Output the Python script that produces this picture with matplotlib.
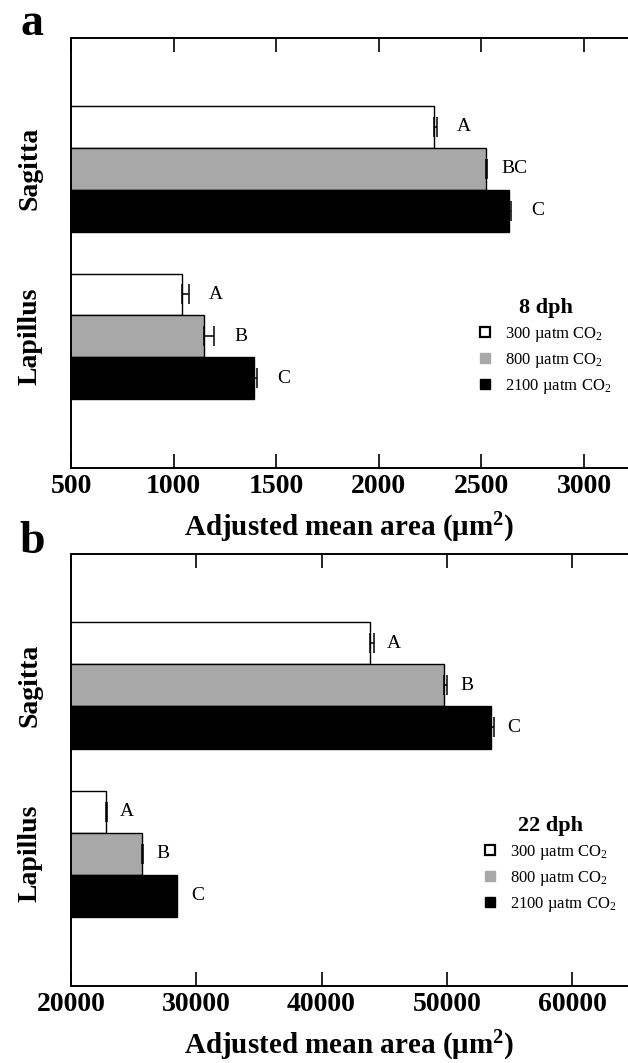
import matplotlib
matplotlib.use("Agg")
import matplotlib.pyplot as plt
from matplotlib.lines import Line2D
import numpy as np

plt.rcParams['font.family'] = ['Liberation Serif', 'DejaVu Serif']
plt.rcParams['mathtext.fontset'] = 'custom'
plt.rcParams['mathtext.rm'] = 'Liberation Serif'
plt.rcParams['mathtext.it'] = 'Liberation Serif:italic'
plt.rcParams['mathtext.bf'] = 'Liberation Serif:bold'

# ---------------- data ----------------
otoliths = ["Sagitta", "Lapillus"]
treatments = ["300 µatm CO$_2$", "800 µatm CO$_2$", "2100 µatm CO$_2$"]
colors = ["white", "#a8a8a8", "black"]

# panel a: 8 dph
a_means = {"Sagitta": [2269, 2522, 2634], "Lapillus": [1041, 1148, 1392]}
a_err = {"Sagitta": [15, 6, 10], "Lapillus": [34, 49, 15]}
a_letters = {"Sagitta": ["A", "BC", "C"], "Lapillus": ["A", "B", "C"]}
a_xticks = [500, 1000, 1500, 2000, 2500, 3000]

# panel b: 22 dph
b_means = {"Sagitta": [43870, 49780, 53530], "Lapillus": [22760, 25640, 28460]}
b_err = {"Sagitta": [320, 240, 240], "Lapillus": [110, 110, 40]}
b_letters = {"Sagitta": ["A", "B", "C"], "Lapillus": ["A", "B", "C"]}
b_xticks = [20000, 30000, 40000, 50000, 60000]

W, H = 628, 1063
fig = plt.figure(figsize=(W / 100, H / 100), dpi=100)


def panel(rect, means, errs, letters, xlim, xticks, title, letter_off, leg_anchor):
    ax = fig.add_axes(rect)
    group_pos = [0, 4]
    for g, name in zip(group_pos, otoliths):
        ys = [g - 1, g, g + 1]
        ax.barh(ys, means[name], height=1.0, color=colors, edgecolor="black",
                linewidth=1.0, zorder=2)
        ax.errorbar(means[name], ys, xerr=[[0, 0, 0], errs[name]], fmt="none",
                    ecolor="black", elinewidth=1.1, capsize=7.5, capthick=1.1, zorder=3)
        for y, m, e, lab in zip(ys, means[name], errs[name], letters[name]):
            ax.annotate(lab, xy=(m + e, y), xytext=(letter_off, 0),
                        textcoords="offset pixels", ha="center", va="center",
                        fontsize=14)
    ax.set_xlim(*xlim)
    ax.set_ylim(7.14, -3.12)
    ax.set_xticks(xticks)
    ax.set_xticklabels([str(t) for t in xticks], fontsize=20, fontweight="bold")
    ax.set_yticks(group_pos)
    ax.set_yticklabels(otoliths, rotation=90, fontsize=20, fontweight="bold",
                       va="center", ha="center")
    ax.tick_params(axis="y", length=0, pad=29.5)
    ax.tick_params(axis="x", direction="in", length=10, width=1.2, top=True,
                   bottom=True, pad=4.5)
    for s in ["left", "top", "bottom"]:
        ax.spines[s].set_linewidth(1.4)
    ax.spines["right"].set_visible(False)
    ax.set_xlabel(r"Adjusted mean area ($\mathbf{\mu}$m$^{\mathbf{2}}$)",
                  fontsize=21, fontweight="bold", labelpad=8)
    handles = [
        Line2D([], [], ls="none", marker="s", markersize=6.5, markerfacecolor="white",
               markeredgecolor="black", markeredgewidth=1.6),
        Line2D([], [], ls="none", marker="s", markersize=6.5, markerfacecolor="#a8a8a8",
               markeredgecolor="#a8a8a8"),
        Line2D([], [], ls="none", marker="s", markersize=6.5, markerfacecolor="black",
               markeredgecolor="black"),
    ]
    leg = ax.legend(handles, treatments, loc="upper left", bbox_to_anchor=leg_anchor,
                    frameon=False, fontsize=12, title=title, borderpad=0,
                    borderaxespad=0, handlelength=0.6, handletextpad=0.9,
                    labelspacing=0.42)
    leg.get_title().set_fontsize(16)
    leg.get_title().set_fontweight("bold")
    return ax


left = 71 / W
panel([left, 1 - 468 / H, 1 - left, 430 / H], a_means, a_err, a_letters,
      (500, 3214), a_xticks, "8 dph", 27, (0.734, 0.395))
panel([left, 1 - 986 / H, 1 - left, 432 / H], b_means, b_err, b_letters,
      (20000, 64471), b_xticks, "22 dph", 20, (0.743, 0.393))

fig.text(32 / W, 1 - 35 / H, "a", fontsize=33, fontweight="bold", ha="center",
         va="baseline")
fig.text(32 / W, 1 - 553 / H, "b", fontsize=33, fontweight="bold", ha="center",
         va="baseline")

fig.savefig("out.png", dpi=100)
